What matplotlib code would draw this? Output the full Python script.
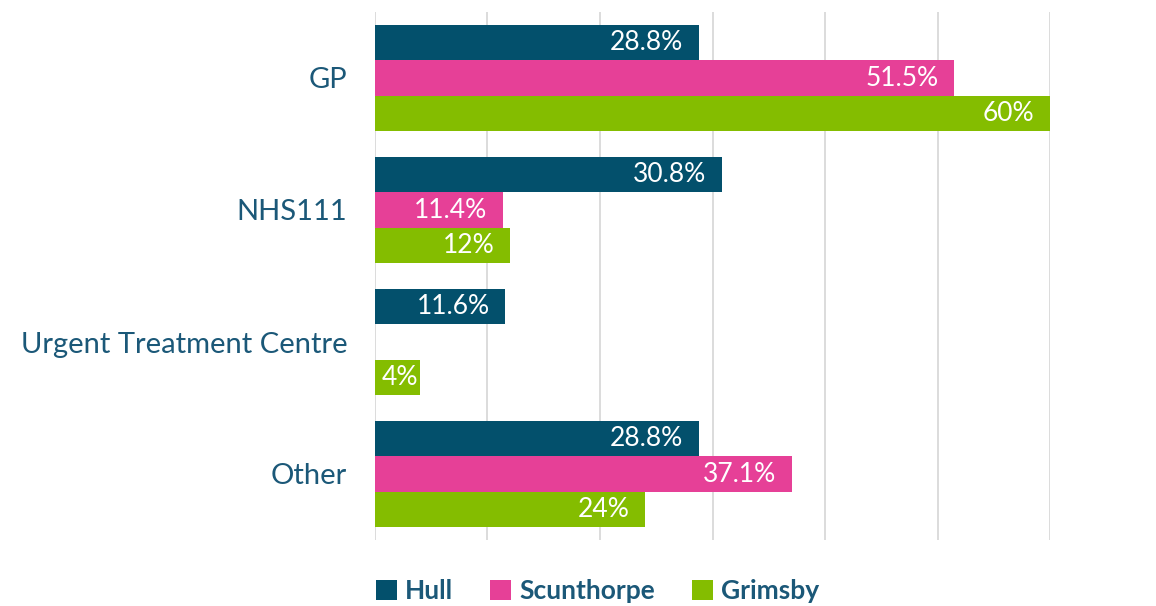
import numpy as np
import matplotlib.pyplot as plt
from matplotlib.patches import Patch

# ---- data ----
categories = ["GP", "NHS111", "Urgent Treatment Centre", "Other"]
series = ["Hull", "Scunthorpe", "Grimsby"]
hull = [28.8, 30.8, 11.6, 28.8]
scunthorpe = [51.5, 11.4, np.nan, 37.1]
grimsby = [60, 12, 4, 24]
labels_hull = ["28.8%", "30.8%", "11.6%", "28.8%"]
labels_scun = ["51.5%", "11.4%", "", "37.1%"]
labels_grim = ["60%", "12%", "4%", "24%"]

colors = ["#03506c", "#e64097", "#84bd00"]
text_col = "#1b5878"

plt.rcParams['font.family'] = ['Lato', 'DejaVu Sans']

fig = plt.figure(figsize=(11.56, 6.06), dpi=100)
ax = fig.add_axes([375 / 1156, 1 - 540 / 606, (1050 - 375) / 1156, (540 - 12) / 606])

y = np.arange(len(categories))
h = 0.266
all_vals = [hull, scunthorpe, grimsby]
all_labels = [labels_hull, labels_scun, labels_grim]
for i, (vals, labs) in enumerate(zip(all_vals, all_labels)):
    pos = y + (i - 1) * h
    ax.barh(pos, vals, height=h, color=colors[i], zorder=2)
    for p, v, t in zip(pos, vals, labs):
        if np.isnan(v) or not t:
            continue
        xt = max(v - 1.4, 3.8)
        ax.text(xt, p, t, ha='right', va='center', color='white',
                fontsize=19, zorder=3)

ax.set_xlim(0, 60)
ax.set_ylim(3.5, -0.5)
ax.set_xticks(np.arange(0, 61, 10))
ax.set_xticklabels([])
ax.tick_params(axis='x', length=0)
ax.tick_params(axis='y', length=0, pad=20, labelsize=21, labelcolor=text_col)
ax.set_yticks(y)
ax.set_yticklabels(categories)
ax.grid(axis='x', color='#d9d9d9', linewidth=1.3, zorder=0)
for s in ax.spines.values():
    s.set_visible(False)

handles = [Patch(facecolor=c, edgecolor='none') for c in colors]
fig.legend(handles, series, loc='center', bbox_to_anchor=(0.517, 0.024),
           ncol=3, frameon=False, handlelength=0.8, handleheight=0.8,
           handletextpad=0.3, columnspacing=1.4,
           prop={'size': 19, 'weight': 'bold'}, labelcolor=text_col)

fig.savefig("out.png", dpi=100)
